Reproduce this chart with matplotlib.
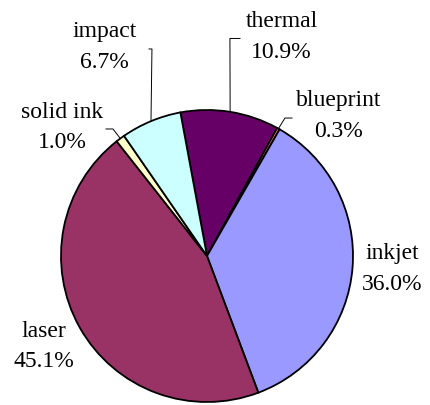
import numpy as np
import matplotlib
matplotlib.use("Agg")
import matplotlib.pyplot as plt

# printer technology share
labels = ['thermal', 'blueprint', 'inkjet', 'laser', 'solid ink', 'impact']
shares = [10.9, 0.3, 36.0, 45.1, 1.0, 6.7]
colors = ['#660066', '#FF8080', '#9999FF', '#993366', '#FFFFCC', '#CCFFFF']

# label placement (data units, pie radius = 1)
label_pos = {
    'thermal': (0.51, 1.50),
    'blueprint': (0.90, 0.96),
    'inkjet': (1.27, -0.09),
    'laser': (-1.12, -0.62),
    'solid ink': (-0.99, 0.88),
    'impact': (-0.70, 1.43),
}
# elbow of leader lines (start, corner)
leaders = {
    'thermal': [(0.226, 1.49), (0.157, 1.49)],
    'blueprint': [(0.582, 0.945), (0.534, 0.945)],
    'solid ink': [(-0.692, 0.870), (-0.644, 0.870)],
    'impact': [(-0.397, 1.418), (-0.377, 1.418)],
}

px = 146.0
fig = plt.figure(figsize=(4.3, 4.05), dpi=100)
ax = fig.add_axes([0, 0, 1, 1])

start = 100.5
wedges, _ = ax.pie(shares, colors=colors, startangle=start, counterclock=False,
                   radius=1.0, center=(0, 0), frame=True,
                   wedgeprops=dict(edgecolor='black', linewidth=1.3))
ax.set_xlim(-207 / px, 223 / px)
ax.set_ylim(-149 / px, 256 / px)
ax.set_aspect('equal')
ax.axis('off')

for w, lab, val in zip(wedges, labels, shares):
    x, y = label_pos[lab]
    ax.text(x, y, '%s\n%.1f%%' % (lab, val), ha='center', va='center',
            fontsize=17, family='Liberation Serif', linespacing=1.6)
    if lab in leaders:
        mid = np.deg2rad((w.theta1 + w.theta2) / 2)
        ex, ey = np.cos(mid), np.sin(mid)
        (x0, y0), (x1, y1) = leaders[lab]
        ax.plot([x0, x1, ex], [y0, y1, ey], color='black', linewidth=0.7)

fig.savefig('out.png', dpi=100)
